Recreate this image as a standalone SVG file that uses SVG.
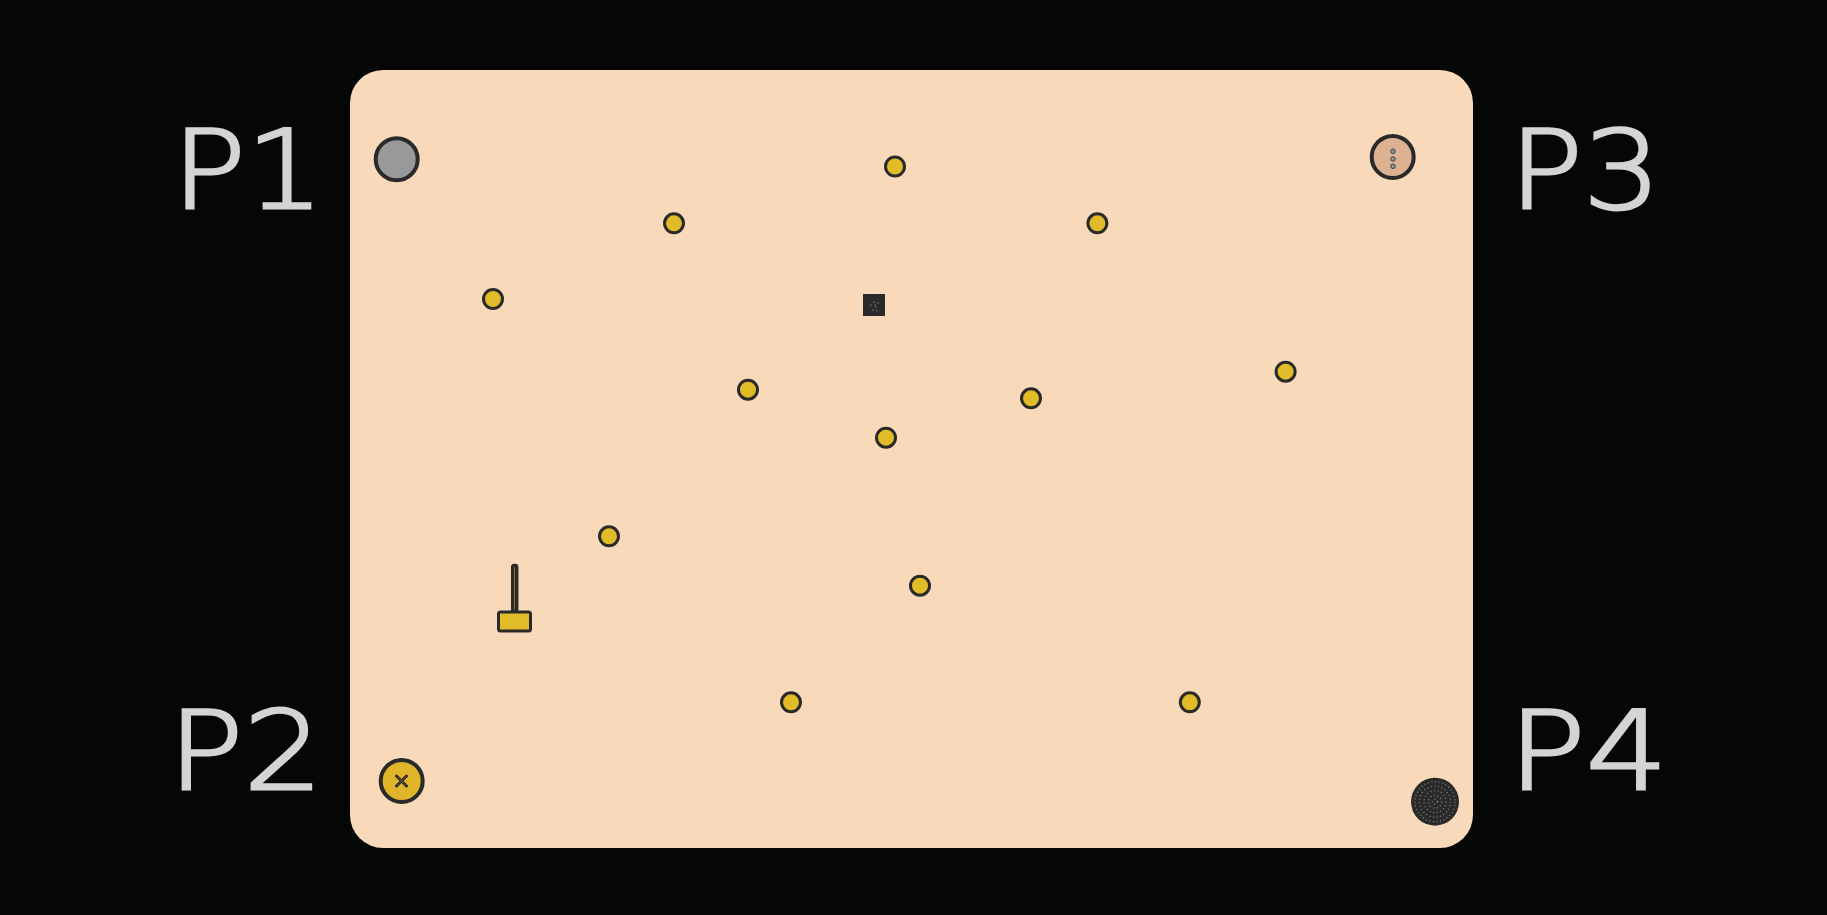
<svg xmlns="http://www.w3.org/2000/svg" width="1827" height="915" viewBox="0 0 1827 915">
<style>
.lbl{font-family:"DejaVu Sans","Liberation Sans",sans-serif;font-weight:200;font-size:109px;fill:#d3d4d5;stroke:#d3d4d5;stroke-width:2.8}
.pad{fill:#e2bb28;stroke:#2a2a2a;stroke-width:3}
.ring{fill:none;stroke:#8c8c8c;stroke-width:1.2;stroke-dasharray:1 2.6}
</style>
<rect width="1827" height="915" fill="#050707"/>
<g id="board"><rect x="350" y="70" width="1123" height="778" rx="33" fill="#f8d9b9"/></g>
<g id="labels">
<text class="lbl" x="172" y="208" textLength="152" lengthAdjust="spacingAndGlyphs">P1</text>
<text class="lbl" x="168" y="789" textLength="155" lengthAdjust="spacingAndGlyphs">P2</text>
<text class="lbl" x="1509" y="208" textLength="152" lengthAdjust="spacingAndGlyphs">P3</text>
<text class="lbl" x="1508" y="789" textLength="160" lengthAdjust="spacingAndGlyphs">P4</text>
</g>
<g id="p1"><circle cx="396.7" cy="159.3" r="21" fill="#999999" stroke="#2a2a2a" stroke-width="4"/></g>
<g id="p3"><circle cx="1392.7" cy="157" r="21" fill="#dcb293" stroke="#2a2a2a" stroke-width="4"/>
<circle cx="1393" cy="151.3" r="2.3" fill="#8e9597" stroke="#2a2a2a" stroke-width="0.8"/>
<circle cx="1393" cy="159" r="2.3" fill="#8e9597" stroke="#2a2a2a" stroke-width="0.8"/>
<circle cx="1393" cy="166.3" r="2.3" fill="#8e9597" stroke="#2a2a2a" stroke-width="0.8"/></g>
<g id="p2"><circle cx="401.7" cy="781" r="21" fill="#e0b52a" stroke="#2a2a2a" stroke-width="4"/>
<path d="M396.5,776 L406.5,786 M406.5,776 L396.5,786" stroke="#2a2a2a" stroke-width="3" stroke-linecap="round"/>
<path d="M397.5,777 L405.5,785 M405.5,777 L397.5,785" stroke="#e0b52a" stroke-width="0.8" stroke-dasharray="1 1.5"/></g>
<g id="p4"><circle cx="1435" cy="801.7" r="24" fill="#2a2a2a"/>
<circle class="ring" cx="1435" cy="801.7" r="20"/>
<circle class="ring" cx="1435" cy="801.7" r="15.5"/>
<circle class="ring" cx="1435" cy="801.7" r="11"/>
<circle class="ring" cx="1435" cy="801.7" r="6.5"/>
<circle class="ring" cx="1435" cy="801.7" r="2.5"/></g>
<g id="chip"><rect x="863" y="294" width="22" height="22" fill="#2a2a2a"/>
<g fill="#8c8c8c"><circle cx="871" cy="305" r="0.7"/><circle cx="874" cy="302" r="0.7"/><circle cx="876" cy="307" r="0.7"/><circle cx="878" cy="303" r="0.7"/><circle cx="873" cy="310" r="0.7"/><circle cx="877" cy="311" r="0.7"/><circle cx="875" cy="305" r="0.7"/></g></g>
<g id="probe"><rect x="512.7" y="565.5" width="4" height="46" rx="1.5" fill="#e2bb28" stroke="#2a2a2a" stroke-width="3.5"/>
<rect x="498.5" y="612" width="32" height="19" rx="2" fill="#e2bb28" stroke="#2a2a2a" stroke-width="3"/></g>
<g id="pads">
<circle id="d1" class="pad" cx="895" cy="166.5" r="9.5"/>
<circle id="d2" class="pad" cx="674" cy="223.3" r="9.5"/>
<circle id="d3" class="pad" cx="1097.4" cy="223.3" r="9.5"/>
<circle id="d4" class="pad" cx="493" cy="299" r="9.5"/>
<circle id="d5" class="pad" cx="748" cy="389.7" r="9.5"/>
<circle id="d6" class="pad" cx="1031" cy="398.3" r="9.5"/>
<circle id="d7" class="pad" cx="1285.6" cy="371.7" r="9.5"/>
<circle id="d8" class="pad" cx="886" cy="437.7" r="9.5"/>
<circle id="d9" class="pad" cx="609" cy="536.3" r="9.5"/>
<circle id="d10" class="pad" cx="920" cy="585.7" r="9.5"/>
<circle id="d11" class="pad" cx="791" cy="702.3" r="9.5"/>
<circle id="d12" class="pad" cx="1189.8" cy="702.3" r="9.5"/>
</g>
<g id="connectors"/>
</svg>
